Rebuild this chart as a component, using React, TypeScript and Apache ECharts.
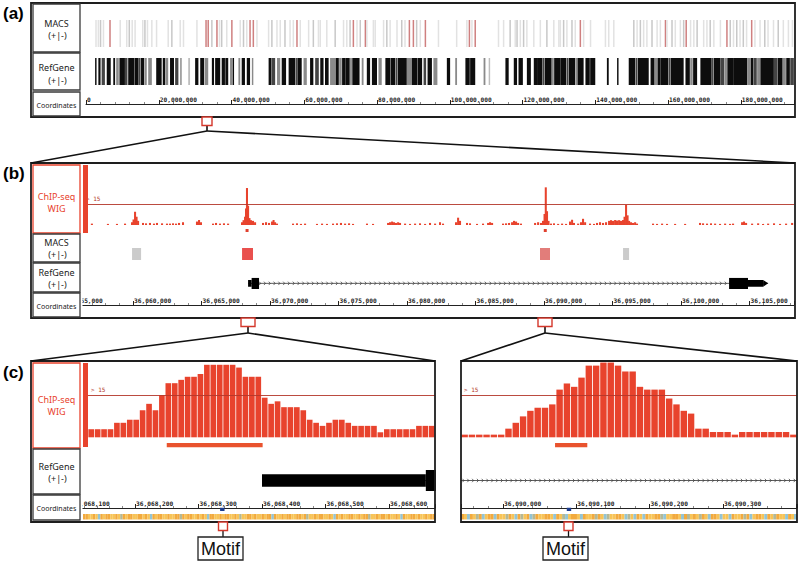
import React, { useEffect, useRef } from "react";
import * as echarts from "echarts";

// ---------------- (a) whole chromosome, positions in Mb ----------------
const chromEndMb = 194.8;
const macsAPos = [
  2.75, 3.4, 4.0, 4.8, 6.6, 9.4, 11.2, 11.9, 12.7, 13.5, 15.6, 16.2, 16.9, 18.1, 19.4, 22.6, 23.6, 25.9, 26.8, 30.5,
  33.0, 33.6, 34.6, 36.0, 36.7, 37.3, 38.7, 40.1, 42.4, 43.3, 44.2, 45.1, 46.0, 47.0, 50.2, 51.1, 52.5, 53.4, 54.7, 56.1,
  57.0, 58.0, 58.9, 61.2, 62.5, 63.9, 64.4, 66.2, 68.5, 70.8, 71.7, 72.6, 73.5, 74.5, 75.4, 76.8, 77.2, 79.0, 79.5, 81.8,
  82.7, 83.6, 85.5, 86.8, 87.7, 88.9, 90.0, 90.9, 91.9, 93.3, 96.9, 101.9, 104.7, 105.4, 106.1, 107.0, 113.4, 114.8, 116.6, 118.0,
  118.5, 119.4, 120.3, 121.2, 123.1, 124.9, 126.7, 128.6, 130.0, 130.4, 131.3, 132.2, 133.6, 134.5, 135.9, 136.8, 138.7, 142.8, 143.7, 145.1,
  150.6, 151.5, 152.4, 153.3, 154.2, 155.6, 157.0, 157.9, 159.3, 159.7, 161.1, 162.0, 163.4, 164.3, 165.0, 166.2, 167.1, 168.0, 169.8, 170.7,
  171.6, 172.6, 174.4, 176.2, 177.1, 178.0, 178.9, 179.8, 180.7, 181.6, 183.0, 183.9, 185.3, 186.6, 187.5, 189.0, 190.3, 191.7, 193.1, 194.2,
];
// 1 weak, 2 medium, 3 strong (red)
const macsAClass = [
  1, 1, 2, 1, 3, 1, 1, 2, 1, 1, 1, 2, 1, 1, 1, 1, 2, 1, 1, 1,
  3, 3, 2, 3, 1, 2, 1, 3, 1, 2, 1, 3, 3, 1, 1, 2, 1, 1, 2, 1,
  1, 3, 1, 1, 2, 1, 1, 1, 2, 1, 1, 2, 3, 1, 2, 3, 1, 1, 1, 1,
  2, 1, 1, 2, 1, 3, 3, 2, 1, 3, 1, 1, 1, 3, 1, 3, 1, 1, 2, 1,
  2, 1, 2, 1, 1, 1, 2, 1, 1, 1, 2, 1, 2, 1, 3, 1, 1, 1, 1, 1,
  2, 1, 2, 1, 1, 2, 1, 1, 3, 1, 2, 1, 1, 2, 3, 1, 1, 2, 1, 1,
  2, 1, 1, 3, 2, 1, 2, 1, 2, 1, 3, 1, 1, 2, 1, 1, 2, 1, 1, 1,
];
const refAStart = [
  2.5, 3.4, 4.3, 5.7, 7.5, 8.3, 9.2, 10.7, 11.6, 12.1, 13.3, 14.4, 15.1, 16.1, 17.1, 19.3, 21.1, 21.9, 23.1, 24.5,
  25.9, 28.1, 30.0, 31.4, 32.7, 34.6, 35.5, 37.3, 38.3, 39.6, 40.3, 41.9, 42.8, 44.2, 45.6, 50.2, 51.1, 52.5, 53.8, 55.7,
  57.6, 58.1, 59.8, 61.6, 63.0,
  64.4, 65.7, 67.1, 68.6, 69.6, 70.4, 71.3, 72.6, 73.2, 75.8, 77.2, 78.6, 80.4, 82.3, 83.7, 85.1, 85.7, 88.2, 89.6, 91.1,
  92.8, 93.9, 95.5, 99.2, 101.5, 104.3, 105.6, 109.3, 110.7, 115.3, 117.6, 118.9, 121.2, 123.1, 124.0, 125.6, 126.1, 128.1, 128.7,
  130.4, 132.1, 132.7, 134.6, 135.1, 137.3, 138.6, 143.2, 146.0, 149.2, 151.1, 151.7, 155.2, 156.4, 157.1, 157.9, 160.1, 160.7, 164.8, 166.1,
  166.9, 168.9, 172.1, 172.6, 174.4, 175.6, 176.3, 178.1, 181.8, 182.7, 183.6, 184.5, 185.4, 189.1, 190.1, 191.6, 192.5, 193.6,
];
const refAEnd = [
  2.9, 4.0, 5.2, 6.8, 8.0, 9.0, 10.7, 11.4, 12.1, 13.2, 14.4, 15.0, 16.0, 16.7, 18.1, 20.8, 21.8, 22.6, 24.2, 25.4,
  26.3, 28.6, 30.9, 32.5, 33.6, 35.2, 36.9, 38.2, 39.1, 40.2, 40.7, 42.4, 43.7, 45.1, 46.0, 51.0, 52.0, 53.4, 55.0, 57.5,
  58.0, 59.3, 60.7, 62.5, 64.0,
  65.3, 66.7, 68.5, 69.5, 70.3, 71.3, 72.5, 73.1, 75.2, 76.3, 78.1, 80.0, 81.3, 83.6, 85.0, 85.6, 88.2, 89.6, 91.0, 92.4,
  93.5, 95.1, 96.6, 100.1, 102.0, 105.5, 107.0, 109.8, 111.1, 116.2, 118.5, 120.1, 122.3, 124.0, 125.5, 126.0, 128.0, 128.6, 130.4,
  132.0, 132.6, 134.5, 135.0, 136.8, 138.5, 140.0, 143.7, 146.4, 151.0, 151.6, 154.7, 156.3, 157.0, 157.9, 160.0, 160.6, 164.3, 166.0, 166.8,
  168.0, 172.0, 172.5, 174.4, 175.5, 176.2, 178.1, 181.8, 182.6, 183.5, 184.4, 185.4, 189.1, 190.0, 191.5, 192.4, 193.5, 194.6,
];
// 0 black ... 3 light grey
const refAShade = [
  0, 0, 1, 0, 0, 2, 0, 1, 0, 0, 0, 1, 0, 2, 2, 0, 0, 2, 0, 1,
  2, 3, 0, 0, 2, 0, 0, 0, 0, 2, 0, 2, 0, 0, 2, 0, 1, 2, 0, 0,
  1, 0, 2, 0, 1,
  0, 0, 2, 0, 2, 0, 0, 2, 0, 2, 0, 0, 2, 0, 0, 1, 0, 2, 0, 0,
  1, 0, 2, 0, 2, 0, 0, 2, 3, 0, 0, 0, 0, 0, 0, 1, 0, 2, 0,
  0, 1, 0, 2, 0, 0, 0, 0, 0, 0, 1, 0, 0, 2, 0, 0, 1, 0, 0, 2,
  0, 0, 1, 0, 1, 2, 0, 0, 2, 0, 1, 2, 0, 1, 0, 2, 0, 1,
];

// ---------------- (b) locus, positions in kb after 36,000,000 ----------------
const wigKb = [
  57.0, 58.17, 58.83, 59.42, 59.93, 60.04, 60.15, 60.26, 60.37, 60.73, 60.95, 61.24, 61.53, 61.75, 62.12, 62.48, 62.7, 62.92, 63.14, 63.36,
  63.65, 64.67, 64.82, 64.96, 65.84, 66.06, 66.35, 66.64, 66.94, 67.96, 68.07, 68.18, 68.25, 68.32, 68.4, 68.5, 68.61, 68.76, 68.91, 69.49,
  69.71, 69.93, 70.15, 70.26, 70.37, 70.51, 71.68, 71.97, 72.26, 72.56, 73.43, 73.8, 74.16, 74.6, 74.89, 75.18, 75.48, 75.77, 76.06, 77.08,
  77.52, 78.62, 78.76, 78.91, 79.05, 79.2, 79.35, 79.49, 79.86, 80.22, 80.59, 80.95, 81.32, 81.68, 82.05, 82.41, 82.63, 83.58, 83.73, 83.87,
  84.38, 84.6, 85.11, 85.55, 85.92, 86.06, 86.21, 87.01, 87.23, 87.45, 87.67, 87.81, 87.96, 88.11, 88.32, 89.35, 89.57, 89.78, 89.93, 90.04,
  90.13, 90.22, 90.33, 90.51, 90.73, 91.03, 91.32, 91.61, 91.9, 92.05, 92.19, 92.49, 92.7, 92.85, 93.0, 93.36, 93.65, 93.87, 94.09, 94.31,
  94.53, 94.75, 94.89, 95.04, 95.19, 95.33, 95.48, 95.62, 95.77, 95.88, 95.99, 96.1, 96.21, 96.35, 96.5, 96.65, 96.79, 97.96, 98.25, 98.62,
  98.98, 99.57, 100.3, 101.39, 101.61, 101.9, 102.19, 102.49, 102.85, 103.22, 103.58, 103.8, 104.46, 104.6, 104.75, 105.19, 105.63, 105.99, 106.36, 106.79,
  107.23, 107.67, 108.11,
];
const wigVal = [
  1, 0.8, 0.8, 1, 2, 4, 9.6, 6, 3, 1.5, 1.2, 1.5, 1, 1.5, 1.2, 1, 1, 1.2, 1, 1.5,
  2, 2.5, 3.6, 2, 1, 1.5, 1, 1.2, 1, 2, 3.5, 6, 12, 26.8, 14, 5, 3.5, 3, 2, 1.5,
  2, 1.5, 2.5, 3.6, 2, 1, 1, 1.2, 0.8, 1, 0.8, 1, 0.8, 1, 1.2, 1.5, 1, 1.2, 0.8, 1,
  0.8, 1.5, 2, 2.5, 2, 1.5, 2, 1.5, 1, 0.8, 1, 1.2, 0.8, 1.5, 1, 2, 1, 2, 5.3, 3,
  1.5, 1.2, 0.8, 1, 1.5, 2, 1.5, 1, 1.2, 1.5, 2, 3, 2.5, 1.5, 1, 1.5, 2, 1.5, 3, 8,
  27.3, 10, 3, 1, 1.2, 0.8, 1, 0.8, 2.5, 3.8, 1.5, 1, 2, 4.5, 2, 1, 0.8, 1.5, 2, 1.5,
  2, 3, 3.5, 3, 3.6, 3.2, 3.5, 3, 3.6, 6, 14.5, 7, 3, 2, 1.5, 2, 1, 1, 0.8, 1,
  0.8, 0.8, 0.8, 1.5, 1.2, 1, 1.2, 1, 0.8, 1, 0.8, 1, 2, 2.5, 1.5, 1, 1.2, 0.8, 1, 1.2,
  0.8, 1, 1.5,
];
const wigThreshold = 15;
const macsBStart = [59.93, 67.96, 89.71, 95.77];
const macsBEnd = [60.59, 68.76, 90.44, 96.21];
const macsBClass = [1, 3, 2, 1];

// peak regions & motifs, bp after 36,000,000
const peakStart = [68250, 90071];
const peakEnd = [68401, 90115];
const motifStart = [68334, 90087];
const motifEnd = [68341, 90093];

// gene model Hs6st1 (bp after 36,000,000)
const geneName = "Hs6st1";
const geneTxStart = 68400;
const geneTxEnd = 106360;
const geneCdsStart = 68658;
const geneCdsEnd = 104890;
const geneExonStart = [68400, 103510];
const geneExonEnd = [69200, 106000];

// ---------------- (c) 10-bp ChIP-seq bins ----------------
const binsLeft = [
  2.9, 2.9, 2.9, 2.9, 5.2, 5.2, 6.3, 6.3, 9.7, 12.0, 9.7, 15.1, 19.4, 19.4, 20.6, 21.7, 21.7, 22.7, 26.0, 26.0,
  26.0, 26.0, 26.0, 25.0, 21.7, 21.7, 21.7, 14.2, 12.0, 12.9, 10.8, 10.8, 10.8, 9.7, 6.3, 5.2, 4.1, 5.2, 6.3, 6.3,
  5.2, 4.1, 4.1, 4.1, 4.1, 1.8, 2.9, 2.9, 2.9, 2.9, 2.9, 4.1, 4.1, 4.1,
];
const binsRight = [
  0.95, 0.95, 0.95, 0.95, 0.95, 0.95, 3.1, 5.2, 7.5, 9.5, 10.6, 10.6, 11.8, 17.1, 19.3, 18.1, 21.4, 25.7, 25.7, 26.8,
  26.8, 25.7, 23.6, 23.6, 18.1, 17.1, 17.1, 17.1, 13.9, 11.8, 9.5, 8.5, 3.1, 3.1, 1.9, 1.9, 1.9, 0.95, 1.9, 1.9,
  1.9, 1.9, 1.9, 1.9, 1.9, 0.95,
];
// coordinate tick labels of the right zoom (bp after 36,000,000)
const rightTicks = [90000, 90100, 90200, 90300];
const seqLeft =
  "GGCCGCAGCGGCCGCTGCGGCCGGCGCAGCGGCCGCCGGTGCGGCCGCGCAGGCCGCGGCCGCTCCGGCGCCGCGGAGCCGCGGCCGGCGTCCGCGGCCGCAGCGCCGGCCGCGGTCCGCGGCGCCGCAGCCGGCGCCGCGG";
const seqRight =
  "GCAGCTGACGGAGCCTGCAGTCGATGCCGGCAGCTACGGCAGCCGTGCATCCGGCATCAGCAGCCGGTACCGGCAGTCGCTGCAGGCACCAGCCGTGACGGCAGCTGCCAGCA";

// ---------------- styling ----------------
const RED = "#e8432d";
const baseColor: Record<string, string> = { G: "#f2aa3e", C: "#f7c458", A: "#93c4d4", T: "#b3b896" };
const macsAColor = ["", "#e2e2e2", "#c8c8c8", "#cf8080"];
const macsBColor = ["", "#cbcbcb", "#e27d7a", "#e9504e"];
const refShadeColor = ["#0d0d0d", "#444444", "#8a8a8a", "#bdbdbd"];

function buildOption() {
  const grid: any[] = [];
  const xAxis: any[] = [];
  const yAxis: any[] = [];
  const series: any[] = [];

  const addGrid = (left: number, top: number, width: number, height: number, x: any, y: any = { min: 0, max: 1 }) => {
    const i = grid.length;
    grid.push({ left, top, width, height, containLabel: false });
    xAxis.push({ gridIndex: i, type: "value", show: false, splitLine: { show: false }, ...x });
    yAxis.push({ gridIndex: i, type: "value", show: false, splitLine: { show: false }, ...y });
    return i;
  };

  const coordAxis = (fmt: (v: number) => string, extraLabel: any = {}) => ({
    show: true,
    position: "bottom",
    axisLine: { show: true, onZero: false, lineStyle: { color: "#222", width: 1 } },
    axisTick: { show: true, inside: true, length: 4, lineStyle: { color: "#222", width: 1 } },
    minorTick: { show: true, splitNumber: 5, length: 2, lineStyle: { color: "#555", width: 0.7 } },
    splitLine: { show: false },
    axisLabel: {
      show: true,
      inside: true,
      margin: 2,
      align: "left",
      fontSize: 6.2,
      fontFamily: "DejaVu Sans Mono",
      fontWeight: "bold",
      color: "#222",
      padding: [0, 0, 0, 1],
      formatter: fmt,
      ...extraLabel,
    },
  });

  const rects = (gi: number, starts: number[], ends: number[], color: (i: number) => string, minW = 0) => ({
    type: "custom",
    xAxisIndex: gi,
    yAxisIndex: gi,
    clip: true,
    silent: true,
    data: starts.map((s, i) => [s, ends[i], 0.5, i]),
    encode: { x: [0, 1], y: 2 },
    renderItem: (_p: any, api: any) => {
      const i = api.value(3);
      const a = api.coord([api.value(0), 1]);
      const b = api.coord([api.value(1), 0]);
      let x = a[0];
      let w = b[0] - a[0];
      if (w < minW) {
        x -= (minW - w) / 2;
        w = minW;
      }
      return { type: "rect", shape: { x, y: a[1], width: w, height: b[1] - a[1] }, style: { fill: color(i) } };
    },
  });

  const thresholdLine = (labelShow: boolean) => ({
    symbol: "none",
    silent: true,
    data: [{ yAxis: wigThreshold }],
    lineStyle: { color: "#b3372a", width: 0.9, type: "solid" },
    label: {
      show: labelShow,
      position: "insideStartTop",
      formatter: "> " + wigThreshold,
      fontSize: 6,
      fontFamily: "DejaVu Sans Mono",
      color: "#b3372a",
      distance: 3,
    },
  });

  const geneSeries = (gi: number, unit: number, labelSize: number) => ({
    type: "custom",
    xAxisIndex: gi,
    yAxisIndex: gi,
    clip: true,
    silent: true,
    z: 3,
    data: [[geneTxStart / unit, geneTxEnd / unit, 0.5]],
    encode: { x: [0, 1], y: 2 },
    renderItem: (params: any, api: any) => {
      const cs = params.coordSys;
      const X = (bp: number) => api.coord([bp / unit, 0.5])[0];
      const yTop = api.coord([geneTxStart / unit, 1])[1];
      const yBot = api.coord([geneTxStart / unit, 0])[1];
      const yMid = (yTop + yBot) / 2;
      const full = yBot - yTop;
      const x0 = Math.max(X(geneTxStart), cs.x);
      const x1 = Math.min(X(geneTxEnd), cs.x + cs.width);
      const kids: any[] = [];
      if (x1 > x0) {
        kids.push({ type: "line", shape: { x1: x0, y1: yMid, x2: x1, y2: yMid }, style: { stroke: "#333", lineWidth: 0.8 } });
        for (let x = x0 + 3; x < x1 - 1; x += 4.8) {
          kids.push({
            type: "polyline",
            shape: { points: [[x - 1.5, yMid - 1.7], [x, yMid], [x - 1.5, yMid + 1.7]] },
            style: { stroke: "#333", fill: null, lineWidth: 0.7 },
          });
        }
      }
      const utr = 0.6;
      geneExonStart.forEach((es, k) => {
        const ee = geneExonEnd[k];
        const pieces: number[][] = [];
        const cS = Math.max(es, geneCdsStart);
        const cE = Math.min(ee, geneCdsEnd);
        if (cS < cE) pieces.push([cS, cE, 1]);
        if (es < Math.min(ee, geneCdsStart)) pieces.push([es, Math.min(ee, geneCdsStart), utr]);
        if (Math.max(es, geneCdsEnd) < ee) pieces.push([Math.max(es, geneCdsEnd), ee, utr]);
        pieces.forEach(([s, e, r]) => {
          const xa = X(s);
          const xb = X(e);
          const hh = full * r;
          kids.push({ type: "rect", shape: { x: xa, y: yMid - hh / 2, width: xb - xa, height: hh }, style: { fill: "#000" } });
        });
      });
      const lastEnd = geneExonEnd[geneExonEnd.length - 1];
      if (geneTxEnd > lastEnd) {
        const hh = full * utr;
        kids.push({
          type: "polygon",
          shape: { points: [[X(lastEnd), yMid - hh / 2], [X(geneTxEnd), yMid], [X(lastEnd), yMid + hh / 2]] },
          style: { fill: "#000" },
        });
      }
      if (labelSize > 0 && x1 > x0) {
        kids.push({
          type: "text",
          style: {
            text: geneName,
            x: (x0 + x1) / 2,
            y: yTop - 7,
            font: `${labelSize}px "DejaVu Sans Mono"`,
            fill: "#222",
            textAlign: "center",
            textVerticalAlign: "middle",
            align: "center",
            verticalAlign: "middle",
          },
        });
      }
      return { type: "group", children: kids };
    },
  });

  const seqSeries = (gi: number, seq: string) => ({
    type: "bar",
    xAxisIndex: gi,
    yAxisIndex: gi,
    silent: true,
    barCategoryGap: "0%",
    data: seq.split("").map((ch) => ({ value: 1, itemStyle: { color: baseColor[ch] } })),
  });

  // ---------- (a) ----------
  const aLeft = 86;
  const aWidth = 708.6;
  const aX = { min: 0, max: chromEndMb };
  const gAMacs = addGrid(aLeft, 20, aWidth, 27, aX);
  const gARef = addGrid(aLeft, 58, aWidth, 27, aX);
  addGrid(aLeft, 91, aWidth, 13, {
    ...aX,
    interval: 20,
    ...coordAxis((v: number) => Math.round(v * 1e6).toLocaleString("en-US"), { showMaxLabel: false }),
  });
  series.push(rects(gAMacs, macsAPos, macsAPos, (i) => macsAColor[macsAClass[i]], 1.5));
  series.push(rects(gARef, refAStart, refAEnd, (i) => refShadeColor[refAShade[i]], 0.9));

  // ---------- (b) ----------
  const bPx = 13.7; // px per kb
  const bAxisLeft = 64.5;
  const bAxisMin = 55;
  const bRight = 794;
  const bMax = bAxisMin + (bRight - bAxisLeft) / bPx;
  const bTrackLeft = 83;
  const bTrackMin = bAxisMin + (bTrackLeft - bAxisLeft) / bPx;
  const bX = { min: bTrackMin, max: bMax };
  const bW = bRight - bTrackLeft;
  const gBWig = addGrid(bTrackLeft, 165, bW, 60, bX, { min: 0, max: 43.5 });
  const gBPeak = addGrid(bTrackLeft, 229, bW, 3, bX);
  const gBMacs = addGrid(bTrackLeft, 248, bW, 12, bX);
  const gBGene = addGrid(bTrackLeft, 277.7, bW, 11.3, bX);
  addGrid(bAxisLeft, 293, bRight - bAxisLeft, 12, {
    min: bAxisMin,
    max: bMax,
    interval: 5,
    ...coordAxis((v: number) => Math.round(36000000 + v * 1000).toLocaleString("en-US"), { showMaxLabel: false }),
  });
  series.push({
    type: "custom",
    xAxisIndex: gBWig,
    yAxisIndex: gBWig,
    clip: true,
    silent: true,
    data: wigKb.map((k, i) => [k, wigVal[i]]),
    encode: { x: 0, y: 1 },
    renderItem: (_p: any, api: any) => {
      const k = api.value(0);
      const v = api.value(1);
      const a = api.coord([k - 0.075, v]);
      const b = api.coord([k + 0.075, 0]);
      return {
        type: "rect",
        shape: { x: a[0], y: a[1], width: Math.max(b[0] - a[0], 1.5), height: Math.max(b[1] - a[1], 1) },
        style: { fill: RED },
      };
    },
    markLine: thresholdLine(true),
  });
  series.push(rects(gBPeak, peakStart.map((v) => v / 1000), peakEnd.map((v) => v / 1000), () => "#e0402e", 3));
  series.push(rects(gBMacs, macsBStart, macsBEnd, (i) => macsBColor[macsBClass[i]], 3));
  series.push(geneSeries(gBGene, 1000, 10.3));

  // ---------- (c) left ----------
  const cPx = 0.635; // px per bp
  const cLeft = 71.5;
  const cMin = 68100;
  const cRight = 435;
  const cX = { min: cMin, max: cMin + (cRight - cLeft) / cPx };
  const cW = cRight - cLeft;
  const gCLWig = addGrid(88, 362, cRight - 88, 75.3, { type: "category", data: binsLeft.map((_, i) => String(i)) }, { min: 0, max: 27 });
  const gCLPeak = addGrid(cLeft, 443, cW, 4.5, cX);
  const gCLGene = addGrid(cLeft, 470, cW, 21, cX);
  addGrid(cLeft, 495, cW, 13, {
    ...cX,
    interval: 100,
    ...coordAxis((v: number) => Math.round(36000000 + v).toLocaleString("en-US"), { showMaxLabel: false }),
  });
  const gCLMotif = addGrid(cLeft, 507.5, cW, 3.5, cX);
  const gCLSeq = addGrid(83, 514, cRight - 83, 5.5, { type: "category", data: seqLeft.split("").map((_, i) => String(i)) });
  series.push({
    type: "bar",
    xAxisIndex: gCLWig,
    yAxisIndex: gCLWig,
    silent: true,
    barCategoryGap: "12%",
    itemStyle: { color: RED },
    data: binsLeft,
    markLine: thresholdLine(true),
  });
  series.push(rects(gCLPeak, peakStart, peakEnd, () => "#e9532e", 2));
  series.push(geneSeries(gCLGene, 1, 12.5));
  series.push(rects(gCLMotif, motifStart, motifEnd, () => "#1d3d8f", 4));
  series.push(seqSeries(gCLSeq, seqLeft));

  // ---------- (c) right ----------
  const rPx = 0.733;
  const rLeft = 461;
  const rRight = 797;
  const rMin = 90000 - (503 - rLeft) / rPx;
  const rX = { min: rMin, max: rMin + (rRight - rLeft) / rPx };
  const rW = rRight - rLeft;
  const gCRWig = addGrid(rLeft, 362, rW, 75.3, { type: "category", data: binsRight.map((_, i) => String(i)) }, { min: 0, max: 27 });
  const gCRPeak = addGrid(rLeft, 443, rW, 4.5, rX);
  const gCRGene = addGrid(rLeft, 470, rW, 21, rX);
  addGrid(rLeft, 495, rW, 13, {
    ...rX,
    minInterval: 100,
    maxInterval: 100,
    ...coordAxis((v: number) => Math.round(36000000 + v).toLocaleString("en-US"), { customValues: rightTicks }),
  });
  const gCRMotif = addGrid(rLeft, 507.5, rW, 3.5, rX);
  const gCRSeq = addGrid(rLeft, 514, rW, 5.5, { type: "category", data: seqRight.split("").map((_, i) => String(i)) });
  series.push({
    type: "bar",
    xAxisIndex: gCRWig,
    yAxisIndex: gCRWig,
    silent: true,
    barCategoryGap: "12%",
    itemStyle: { color: RED },
    data: binsRight,
    markLine: thresholdLine(true),
  });
  series.push(rects(gCRPeak, peakStart, peakEnd, () => "#e9532e", 2));
  series.push(geneSeries(gCRGene, 1, 0));
  series.push(rects(gCRMotif, motifStart, motifEnd, () => "#1d3d8f", 4));
  series.push(seqSeries(gCRSeq, seqRight));

  // ---------- decoration ----------
  const g: any[] = [];
  const text = (x: number, y: number, t: string, size: number, color = "#222", weight = "normal", family = '"Noto Sans"', align = "center") => ({
    type: "text",
    x,
    y,
    z: 62,
    silent: true,
    style: {
      text: t,
      fill: color,
      font: `${weight} ${size}px ${family}`,
      textAlign: align,
      textVerticalAlign: "middle",
      align,
      verticalAlign: "middle",
    },
  });
  const rect = (x: number, y: number, w: number, h: number, stroke: string | null, fill: string | null, lw = 1.3, z = 61) => ({
    type: "rect",
    z,
    silent: true,
    shape: { x, y, width: w, height: h },
    style: { stroke: stroke || null, fill: fill || null, lineWidth: lw },
  });
  const line = (x1: number, y1: number, x2: number, y2: number, color = "#111", lw = 1.6) => ({
    type: "line",
    z: 63,
    silent: true,
    shape: { x1, y1, x2, y2 },
    style: { stroke: color, lineWidth: lw },
  });

  // covers for axes entering the label column / the gap between zooms
  g.push(rect(31, 293, 51.5, 24.5, null, "#fff", 0, 50));
  g.push(rect(31, 495, 51.5, 26, null, "#fff", 0, 50));
  // scale bars of WIG tracks
  g.push(rect(83, 165, 5, 68, null, RED, 0, 55));
  g.push(rect(83, 363, 5, 84, null, RED, 0, 55));
  // frames
  g.push(rect(31, 3, 764, 114, "#1e1e1e", null, 1.8, 60));
  g.push(rect(31, 163, 764, 155, "#1e1e1e", null, 1.8, 60));
  g.push(rect(31, 361, 404, 161, "#1e1e1e", null, 1.8, 60));
  g.push(rect(461, 361, 336, 161, "#1e1e1e", null, 1.8, 60));

  // label column boxes
  const LB = "#3a3a3a";
  const boxes: [number, number, string][] = [
    [4, 48, LB], [53, 37, LB], [92, 24, LB],
    [165, 68, RED], [234, 28, LB], [263, 29, LB], [293, 24, LB],
    [363, 85, RED], [449, 45, LB], [495, 25, LB],
  ];
  boxes.forEach(([y, h, c]) => g.push(rect(33, y, 47, h, c, "#fff", 1.3, 61)));
  const cx = 56.5;
  const pm = "(+|-)";
  const fs = 9;
  g.push(text(cx, 23.5, "MACS", fs), text(cx + 1, 35.5, pm, fs));
  g.push(text(cx, 67.5, "RefGene", fs), text(cx + 1, 80, pm, fs));
  g.push(text(cx, 105, "Coordinates", 7));
  g.push(text(cx, 196.5, "ChIP-seq", fs, RED), text(cx, 208.5, "WIG", fs, RED));
  g.push(text(cx, 242.5, "MACS", fs), text(cx + 1, 254.5, pm, fs));
  g.push(text(cx, 272.5, "RefGene", fs), text(cx + 1, 284.5, pm, fs));
  g.push(text(cx, 306, "Coordinates", 7));
  g.push(text(cx, 399.5, "ChIP-seq", fs, RED), text(cx, 411.5, "WIG", fs, RED));
  g.push(text(cx, 466, "RefGene", fs), text(cx + 1, 478, pm, fs));
  g.push(text(cx, 508, "Coordinates", 7));

  // panel letters
  const pf = '"Liberation Sans", Arial, sans-serif';
  g.push(text(3, 13, "(a)", 17, "#000", "bold", pf, "left"));
  g.push(text(3, 173, "(b)", 17, "#000", "bold", pf, "left"));
  g.push(text(3, 372, "(c)", 17, "#000", "bold", pf, "left"));

  // zoom connectors
  const ZR = "#d4372b";
  g.push(line(207, 131, 31, 163), line(207, 131, 795, 163), line(207, 125, 207, 131));
  g.push(rect(202, 117, 10, 8.5, ZR, "#fff", 1.4, 64));
  g.push(line(248, 333, 31, 361), line(248, 333, 435, 361), line(248, 326, 248, 333));
  g.push(rect(241, 318, 14, 8.5, ZR, "#fff", 1.4, 64));
  g.push(line(545, 333, 461, 361), line(545, 333, 797, 361), line(545, 326, 545, 333));
  g.push(rect(538, 318, 14, 8.5, ZR, "#fff", 1.4, 64));

  // motif callouts
  g.push(rect(218.5, 522, 9, 8.5, ZR, "#fff", 1.4, 64));
  g.push(line(223, 530.5, 223, 537, "#111", 1.3));
  g.push(rect(198, 537, 45, 23, "#222", "#fff", 1.3, 64));
  g.push({ ...text(220.5, 549, "Motif", 18, "#111", "normal", pf), z: 65 });
  g.push(rect(564, 522, 9, 8.5, ZR, "#fff", 1.4, 64));
  g.push(line(568.5, 530.5, 568.5, 537, "#111", 1.3));
  g.push(rect(543, 537, 45, 23, "#222", "#fff", 1.3, 64));
  g.push({ ...text(565.5, 549, "Motif", 18, "#111", "normal", pf), z: 65 });

  return {
    animation: false,
    backgroundColor: "#ffffff",
    grid,
    xAxis,
    yAxis,
    series,
    graphic: { elements: g },
  };
}

export default function App() {
  const ref = useRef<HTMLDivElement>(null);
  useEffect(() => {
    if (!ref.current) return;
    const chart = echarts.init(ref.current, null, { renderer: "svg" });
    chart.setOption(buildOption() as any);
    return () => chart.dispose();
  }, []);
  return <div ref={ref} style={{ position: "fixed", left: 0, top: 0, width: 800, height: 563 }} />;
}
